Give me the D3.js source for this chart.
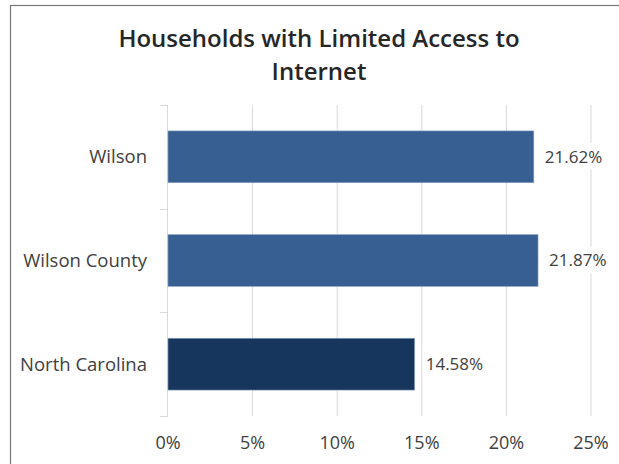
<!DOCTYPE html>
<html>
<head>
<meta charset="utf-8">
<script src="https://cdn.jsdelivr.net/npm/d3@7"></script>
<style>
  html, body { margin: 0; padding: 0; background: #fff; }
  svg { display: block; }
  text { font-family: "Open Sans", "Noto Sans", sans-serif; }
</style>
</head>
<body>
<svg id="chart" width="619" height="464"></svg>
<script>
const titleLines = ["Households with Limited Access to", "Internet"];
const categories = ["Wilson", "Wilson County", "North Carolina"];
const values = [21.62, 21.87, 14.58];
const barColors = ["#375F91", "#375F91", "#17365D"];
const xTicks = [0, 5, 10, 15, 20, 25];

const svg = d3.select("#chart");
const W = 619, H = 464;

svg.append("rect").attr("x", 0).attr("y", 0).attr("width", W).attr("height", H).attr("fill", "#fff");
svg.append("rect")
  .attr("x", 10.5).attr("y", 5.5).attr("width", W + 10).attr("height", H + 10)
  .attr("fill", "none").attr("stroke", "#767676").attr("stroke-width", 1.2);

const plot = { left: 168, right: 591, top: 105, bottom: 416 };

const x = d3.scaleLinear().domain([0, 25]).range([plot.left, plot.right]);
const y = d3.scaleBand().domain(categories).range([plot.top, plot.bottom])
  .paddingInner(0.5).paddingOuter(0.25);

// title
svg.append("text")
  .attr("text-anchor", "middle")
  .attr("font-size", 24).attr("font-weight", 600).attr("fill", "#262626")
  .selectAll("tspan").data(titleLines).join("tspan")
  .attr("x", 319).attr("y", (d, i) => 47 + i * 33)
  .text(d => d);

// gridlines
svg.append("g").selectAll("line").data(xTicks.filter(t => t > 0)).join("line")
  .attr("x1", d => x(d)).attr("x2", d => x(d))
  .attr("y1", plot.top).attr("y2", plot.bottom)
  .attr("stroke", "#d9d9d9").attr("stroke-width", 1);

// y axis line and ticks
const yAxisG = svg.append("g");
yAxisG.append("line")
  .attr("x1", plot.left - 0.5).attr("x2", plot.left - 0.5)
  .attr("y1", plot.top).attr("y2", plot.bottom)
  .attr("stroke", "#d9d9d9");
const step = y.step();
const tickYs = d3.range(categories.length + 1).map(i => plot.top + i * step);
yAxisG.selectAll("line.t").data(tickYs).join("line").attr("class", "t")
  .attr("x1", plot.left - 8).attr("x2", plot.left)
  .attr("y1", d => Math.round(d) + 0.5).attr("y2", d => Math.round(d) + 0.5)
  .attr("stroke", "#d9d9d9");

// category labels
svg.append("g").selectAll("text").data(categories).join("text")
  .attr("x", 147).attr("y", d => y(d) + y.bandwidth() / 2)
  .attr("dy", "0.35em")
  .attr("text-anchor", "end")
  .attr("font-size", 18.5).attr("fill", "#404040")
  .text(d => d);

// x tick labels
svg.append("g").selectAll("text").data(xTicks).join("text")
  .attr("x", d => x(d)).attr("y", 443)
  .attr("dy", "0.35em")
  .attr("text-anchor", "middle")
  .attr("font-size", 18).attr("fill", "#404040")
  .text(d => d + "%");

// bars
svg.append("g").selectAll("rect").data(categories).join("rect")
  .attr("x", x(0)).attr("y", d => y(d))
  .attr("width", (d, i) => x(values[i]) - x(0))
  .attr("height", y.bandwidth())
  .attr("fill", (d, i) => barColors[i])
  .attr("stroke", "#8fa6c3").attr("stroke-width", 0.6);

// value labels with white background
const lab = svg.append("g").selectAll("g").data(categories).join("g")
  .attr("transform", (d, i) => `translate(${x(values[i]) + 11},${y(d) + y.bandwidth() / 2})`);
lab.append("text")
  .attr("dy", "0.35em")
  .attr("font-size", 17).attr("fill", "#404040")
  .text((d, i) => values[i].toFixed(2) + "%");
lab.each(function() {
  const g = d3.select(this);
  const bb = g.select("text").node().getBBox();
  g.insert("rect", "text")
    .attr("x", bb.x - 3).attr("y", bb.y - 2)
    .attr("width", bb.width + 6).attr("height", bb.height + 4)
    .attr("fill", "#fff");
});
</script>
</body>
</html>
